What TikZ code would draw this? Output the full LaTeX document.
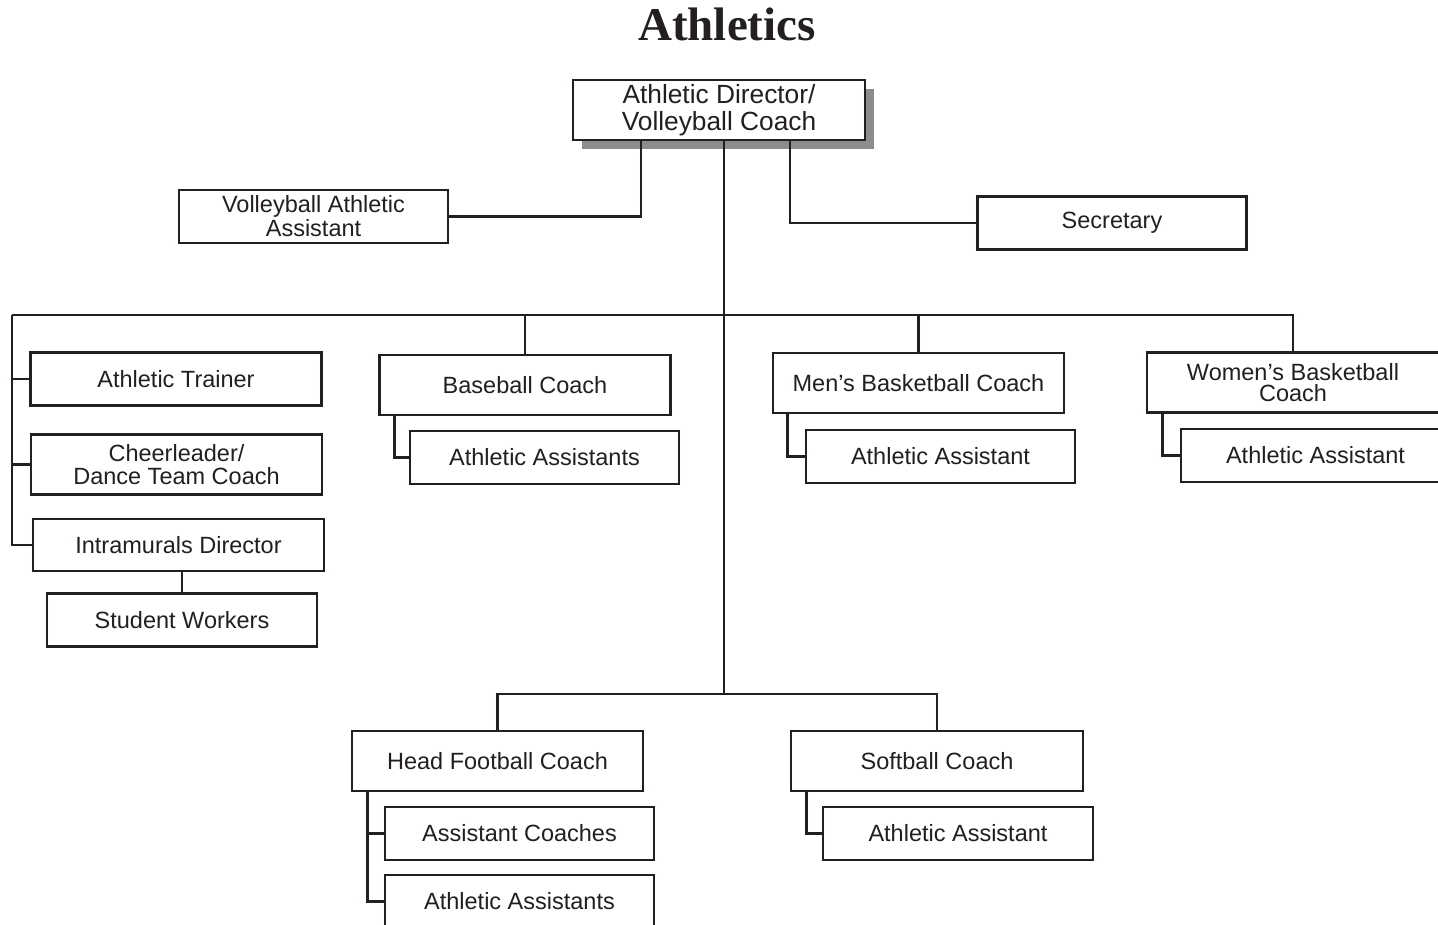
\documentclass[tikz,border=0pt]{standalone}
\usepackage{fontspec}
\setmainfont{Liberation Sans}
\newfontfamily\titlefont{Liberation Serif}
\usetikzlibrary{shadows}
\definecolor{ink}{HTML}{231F20}
\tikzset{
    post/.style={draw=ink, line width=2.7pt, fill=white, inner sep=0pt, align=center,
        text=ink, font=\fontsize{23.5}{24}\selectfont},
    coachbox/.style={post, minimum width=291pt, minimum height=60pt},
    helperbox/.style={post, minimum width=269pt, minimum height=53pt},
    link/.style={draw=ink, line width=2.7pt},
}
\begin{document}
\begin{tikzpicture}[x=1pt,y=-1pt]
                \useasboundingbox (0,0) rectangle (1438,925);
                \node[anchor=base, text=ink, font=\titlefont\bfseries\fontsize{47}{50}\selectfont] (title) at (727,41) {Athletics};
                \node[post, minimum width=292pt, minimum height=60pt, font=\fontsize{26.3}{26.5}\selectfont,
                    drop shadow={shadow xshift=9pt, shadow yshift=-9pt, fill=black!45, opacity=1}] (ad) at (719,110) {Athletic Director/\\Volleyball Coach};
                \node[helperbox] (vaa) at (313.5,216.5) {Volleyball Athletic\\Assistant};
                \node[helperbox] (sec) at (1112,223) {Secretary};
                \node[coachbox, minimum height=53pt] (trainer) at (176,379) {Athletic Trainer};
                \node[coachbox, font=\fontsize{23.5}{23}\selectfont] (cheer) at (176.5,464.5) {Cheerleader/\\Dance Team Coach};
                \node[coachbox, minimum height=52pt] (intra) at (178.5,545) {Intramurals Director};
                \node[helperbox, minimum width=270pt] (workers) at (182,620) {Student Workers};
                \node[coachbox] (baseball) at (525,385) {Baseball Coach};
                \node[helperbox] (baseasst) at (544.5,457.5) {Athletic Assistants};
                \node[coachbox] (mens) at (918.5,383) {Men’s Basketball Coach};
                \node[helperbox] (mensasst) at (940.5,456.5) {Athletic Assistant};
                \node[coachbox, minimum width=292pt, font=\fontsize{23.5}{21.5}\selectfont] (womens) at (1293,382.5) {Women’s Basketball\\Coach};
                \node[helperbox] (womasst) at (1315.5,455.5) {Athletic Assistant};
                \node[coachbox] (football) at (497.5,761) {Head Football Coach};
                \node[helperbox] (footcoaches) at (519.5,833.5) {Assistant Coaches};
                \node[helperbox] (footasst) at (519.5,901.5) {Athletic Assistants};
                \node[coachbox, minimum width=292pt] (softball) at (937,761) {Softball Coach};
                \node[helperbox, minimum width=270pt] (softasst) at (958,833.5) {Athletic Assistant};
                \coordinate (trunk) at ([xshift=5pt]ad.south);
                \coordinate (upperbar) at (724,315);
                \coordinate (lowerbar) at (724,694);
                \coordinate (leftend) at (12,315);
                \coordinate (footspine) at ([xshift=17pt]football.south west);
                \draw[link] (trunk) -- (lowerbar);
                \draw[link] ([xshift=-78pt]ad.south) |- (vaa.east);
                \draw[link] ([xshift=71pt]ad.south) |- (sec.west);
                \draw[link] (leftend) -| (womens.north);
                \draw[link] (leftend) |- (intra.west);
                \draw[link] (leftend |- trainer.west) -- (trainer.west);
                \draw[link] (leftend |- cheer.west) -- (cheer.west);
                \draw[link] (intra.south -| workers.north) -- (workers.north);
                \draw[link] (upperbar -| baseball.north) -- (baseball.north);
                \draw[link] (upperbar -| mens.north) -- (mens.north);
                \draw[link] ([xshift=16pt]baseball.south west) |- (baseasst.west);
                \draw[link] ([xshift=16pt]mens.south west) |- (mensasst.west);
                \draw[link] ([xshift=17pt]womens.south west) |- (womasst.west);
                \draw[link] (football.north) -- (football.north |- lowerbar) -- (softball.north |- lowerbar) -- (softball.north);
                \draw[link] (footspine) |- (footasst.west);
                \draw[link] (footspine |- footcoaches.west) -- (footcoaches.west);
                \draw[link] ([xshift=17pt]softball.south west) |- (softasst.west);
            \end{tikzpicture}
\end{document}
